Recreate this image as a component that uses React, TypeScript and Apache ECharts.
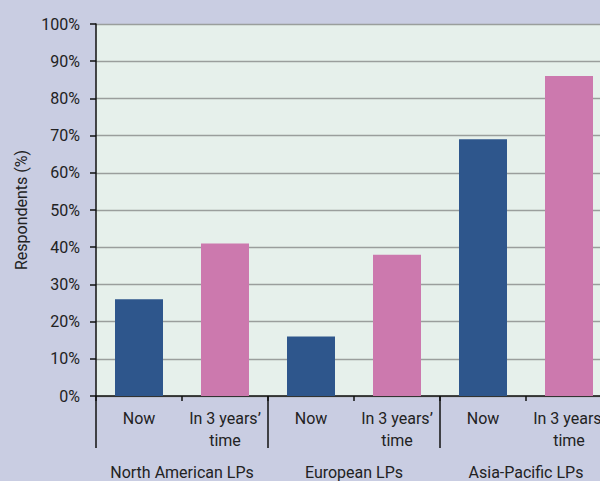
import React, { useEffect, useRef } from "react";
import * as echarts from "echarts";

const groups = ["North American LPs", "European LPs", "Asia-Pacific LPs"];
const periods = ["Now", "In 3 years’\ntime"];
const nowValues = [26, 16, 69];
const futureValues = [41, 38, 86];
const yTicks = [0, 10, 20, 30, 40, 50, 60, 70, 80, 90, 100];

const NOW_COLOR = "#2e568c";
const FUTURE_COLOR = "#cc79ae";
const FONT = "Roboto";

export default function App() {
  const ref = useRef<HTMLDivElement>(null);
  useEffect(() => {
    if (!ref.current) return;
    const chart = echarts.init(ref.current, undefined, { renderer: "svg" });
    const cats: string[] = [];
    const data: any[] = [];
    groups.forEach((g, i) => {
      cats.push(periods[0]);
      data.push({ value: nowValues[i], itemStyle: { color: NOW_COLOR } });
      cats.push(periods[1]);
      data.push({ value: futureValues[i], itemStyle: { color: FUTURE_COLOR } });
    });
    chart.setOption({
      animation: false,
      backgroundColor: "#c9cde2",
      textStyle: { fontFamily: FONT },
      grid: {
        left: 96,
        top: 24,
        width: 516,
        bottom: 85,
        outerBoundsMode: "none",
        containLabel: false,
        show: true,
        backgroundColor: "#e6f0eb",
        borderWidth: 0,
      },
      xAxis: [
        {
          type: "category",
          data: cats,
          position: "bottom",
          axisLine: { show: true, lineStyle: { color: "#111", width: 1.5 } },
          axisTick: { show: true, length: 5, lineStyle: { color: "#111", width: 1.5 } },
          axisLabel: {
            interval: 0,
            margin: 11,
            fontSize: 16,
            lineHeight: 22,
            color: "#222",
            fontFamily: FONT,
          },
          splitLine: { show: false },
        },
        {
          type: "category",
          data: groups,
          position: "bottom",
          axisLine: { show: false },
          axisTick: { show: true, length: 52, lineStyle: { color: "#111", width: 1.5 } },
          axisLabel: {
            interval: 0,
            margin: 68,
            fontSize: 16,
            color: "#222",
            fontFamily: FONT,
          },
        },
      ],
      yAxis: {
        type: "value",
        min: yTicks[0],
        max: yTicks[yTicks.length - 1],
        interval: 10,
        name: "Respondents (%)",
        nameLocation: "middle",
        nameRotate: 90,
        nameGap: 67,
        nameTextStyle: { fontSize: 16, color: "#222", fontFamily: FONT },
        axisLine: { show: true, lineStyle: { color: "#111", width: 1.5 } },
        axisTick: { show: true, length: 6, lineStyle: { color: "#111", width: 1.5 } },
        axisLabel: {
          margin: 16,
          fontSize: 16,
          color: "#222",
          fontFamily: FONT,
          formatter: (v: number) => v + "%",
        },
        splitLine: { show: true, lineStyle: { color: "#9a9e9c", width: 1.3 } },
      },
      series: [
        {
          type: "bar",
          data,
          barWidth: 48,
          xAxisIndex: 0,
        },
      ],
    });
    return () => chart.dispose();
  }, []);
  return (
    <div
      ref={ref}
      style={{ position: "fixed", left: 0, top: 0, width: 600, height: 481 }}
    />
  );
}
